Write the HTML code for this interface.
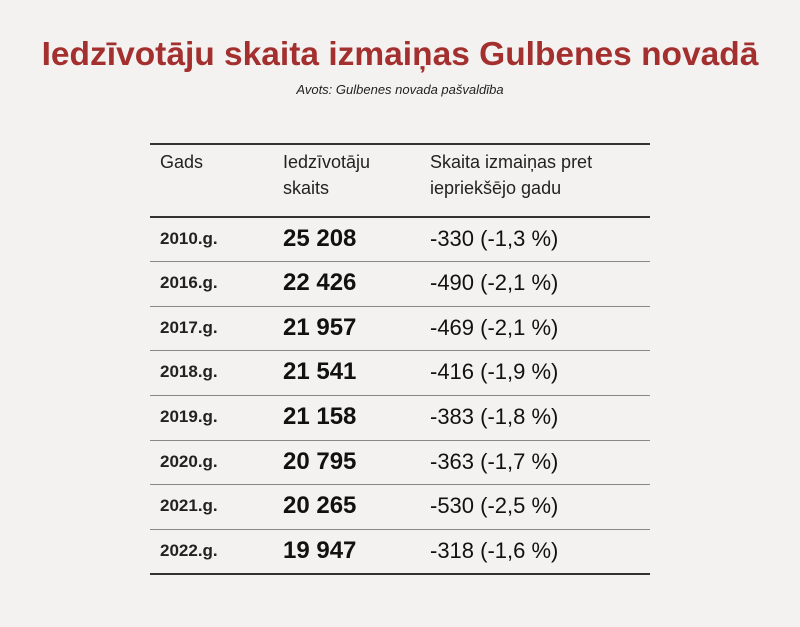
<!DOCTYPE html>
<html><head><meta charset="utf-8"><style>
body{margin:0;width:800px;height:627px;background:#f3f2f0;font-family:"Liberation Sans",sans-serif;position:relative;overflow:hidden;color:#111}
.t{position:absolute;left:0;width:800px;text-align:center;top:36px;font-size:33.5px;font-weight:bold;color:#a3302f}
.s{position:absolute;left:0;width:800px;text-align:center;top:82px;font-size:13px;font-style:italic;color:#222}
.l{position:absolute;left:150px;width:500px;background:#333}
.c{position:absolute;white-space:nowrap}
.y{left:160px;font-size:17px;font-weight:bold;color:#222}
.p{left:283px;font-size:24px;font-weight:bold}
.d{left:430px;font-size:22px}
.h{font-size:18px;line-height:26px;color:#222}
</style></head><body>
<div class="t">Iedzīvotāju skaita izmaiņas Gulbenes novadā</div>
<div class="s">Avots: Gulbenes novada pašvaldība</div>
<div class="l" style="top:143px;height:2px"></div>
<div class="c h" style="left:160px;top:149px">Gads</div>
<div class="c h" style="left:283px;top:149px">Iedzīvotāju<br>skaits</div>
<div class="c h" style="left:430px;top:149px">Skaita izmaiņas pret<br>iepriekšējo gadu</div>
<div class="l" style="top:216px;height:2px"></div>
<div class="c y" style="top:229px">2010.g.</div><div class="c p" style="top:225px">25 208</div><div class="c d" style="top:226px">-330 (-1,3 %)</div>
<div class="l" style="top:261px;height:1px;background:#888"></div>
<div class="c y" style="top:273px">2016.g.</div><div class="c p" style="top:269px">22 426</div><div class="c d" style="top:270px">-490 (-2,1 %)</div>
<div class="l" style="top:306px;height:1px;background:#888"></div>
<div class="c y" style="top:318px">2017.g.</div><div class="c p" style="top:314px">21 957</div><div class="c d" style="top:315px">-469 (-2,1 %)</div>
<div class="l" style="top:350px;height:1px;background:#888"></div>
<div class="c y" style="top:362px">2018.g.</div><div class="c p" style="top:358px">21 541</div><div class="c d" style="top:359px">-416 (-1,9 %)</div>
<div class="l" style="top:395px;height:1px;background:#888"></div>
<div class="c y" style="top:407px">2019.g.</div><div class="c p" style="top:403px">21 158</div><div class="c d" style="top:404px">-383 (-1,8 %)</div>
<div class="l" style="top:440px;height:1px;background:#888"></div>
<div class="c y" style="top:452px">2020.g.</div><div class="c p" style="top:448px">20 795</div><div class="c d" style="top:449px">-363 (-1,7 %)</div>
<div class="l" style="top:484px;height:1px;background:#888"></div>
<div class="c y" style="top:496px">2021.g.</div><div class="c p" style="top:492px">20 265</div><div class="c d" style="top:493px">-530 (-2,5 %)</div>
<div class="l" style="top:529px;height:1px;background:#888"></div>
<div class="c y" style="top:541px">2022.g.</div><div class="c p" style="top:537px">19 947</div><div class="c d" style="top:538px">-318 (-1,6 %)</div>
<div class="l" style="top:573px;height:2px"></div>
</body></html>
